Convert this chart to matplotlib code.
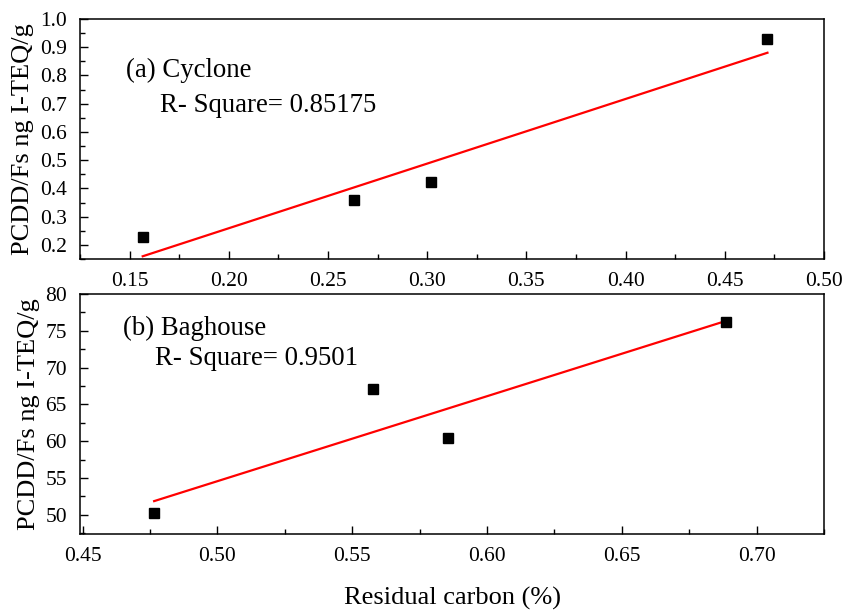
import numpy as np
import matplotlib
matplotlib.use("Agg")
import matplotlib.pyplot as plt
from matplotlib.ticker import MultipleLocator, FormatStrFormatter

plt.rcParams["font.family"] = ["Liberation Serif", "DejaVu Serif"]

# ── Data ──────────────────────────────────────────────────────────────────────
cyc_x = [0.1566, 0.2629, 0.3018, 0.4715]
cyc_y = [0.227, 0.359, 0.421, 0.928]

bag_x = [0.4765, 0.5576, 0.5857, 0.6888]
bag_y = [50.2, 67.1, 60.4, 76.2]

cyc_label = "(a) Cyclone"
cyc_r2 = "R- Square= 0.85175"
bag_label = "(b) Baghouse"
bag_r2 = "R- Square= 0.9501"

ylabel = "PCDD/Fs ng I-TEQ/g"
xlabel = "Residual carbon (%)"

FS_TICK = 15.5
FS_LAB = 19
FS_TXT = 19.3

fig = plt.figure(figsize=(8.44, 6.12), dpi=100)
ax1 = fig.add_axes([0.0948, 0.5768, 0.8815, 0.3922])
ax2 = fig.add_axes([0.0948, 0.1275, 0.8815, 0.3922])


def draw(ax, xs, ys, name, r2, xlim, ylim, xmaj, ymaj, pos_name, pos_r2):
    xs = np.array(xs)
    ys = np.array(ys)
    k, b = np.polyfit(xs, ys, 1)
    xf = np.array([xs.min(), xs.max()])
    ax.plot(xf, k * xf + b, color="red", lw=1.6, zorder=2)
    ax.plot(xs, ys, "s", color="black", markersize=7.5, zorder=3)
    ax.set_xlim(*xlim)
    ax.set_ylim(*ylim)
    ax.xaxis.set_major_locator(MultipleLocator(xmaj))
    ax.xaxis.set_minor_locator(MultipleLocator(xmaj / 2))
    ax.yaxis.set_major_locator(MultipleLocator(ymaj))
    ax.yaxis.set_minor_locator(MultipleLocator(ymaj / 2))
    ax.tick_params(which="both", direction="in", top=False, right=False,
                   labelsize=FS_TICK, width=1.0)
    ax.tick_params(which="major", length=6)
    ax.tick_params(which="minor", length=3.5)
    ax.tick_params(axis="x", pad=9.5)
    ax.tick_params(axis="y", pad=9.5)
    for sp in ax.spines.values():
        sp.set_linewidth(1.1)
    ax.set_ylabel(ylabel, fontsize=FS_LAB, labelpad=4)
    ax.text(*pos_name, name, transform=ax.transAxes, fontsize=FS_TXT,
            va="baseline", ha="left")
    ax.text(*pos_r2, r2, transform=ax.transAxes, fontsize=FS_TXT,
            va="baseline", ha="left")


draw(ax1, cyc_x, cyc_y, cyc_label, cyc_r2, (0.125, 0.50), (0.15, 1.0),
     0.05, 0.1, (0.062, 0.76), (0.1075, 0.614))
ax1.yaxis.set_major_formatter(FormatStrFormatter("%.1f"))
ax1.xaxis.set_major_formatter(FormatStrFormatter("%.2f"))

draw(ax2, bag_x, bag_y, bag_label, bag_r2, (0.449, 0.725), (47.4, 80),
     0.05, 5, (0.0574, 0.829), (0.1008, 0.704))
ax2.xaxis.set_major_formatter(FormatStrFormatter("%.2f"))
ax2.set_xlabel(xlabel, fontsize=FS_LAB, labelpad=15)

fig.savefig("out.png", dpi=100)
